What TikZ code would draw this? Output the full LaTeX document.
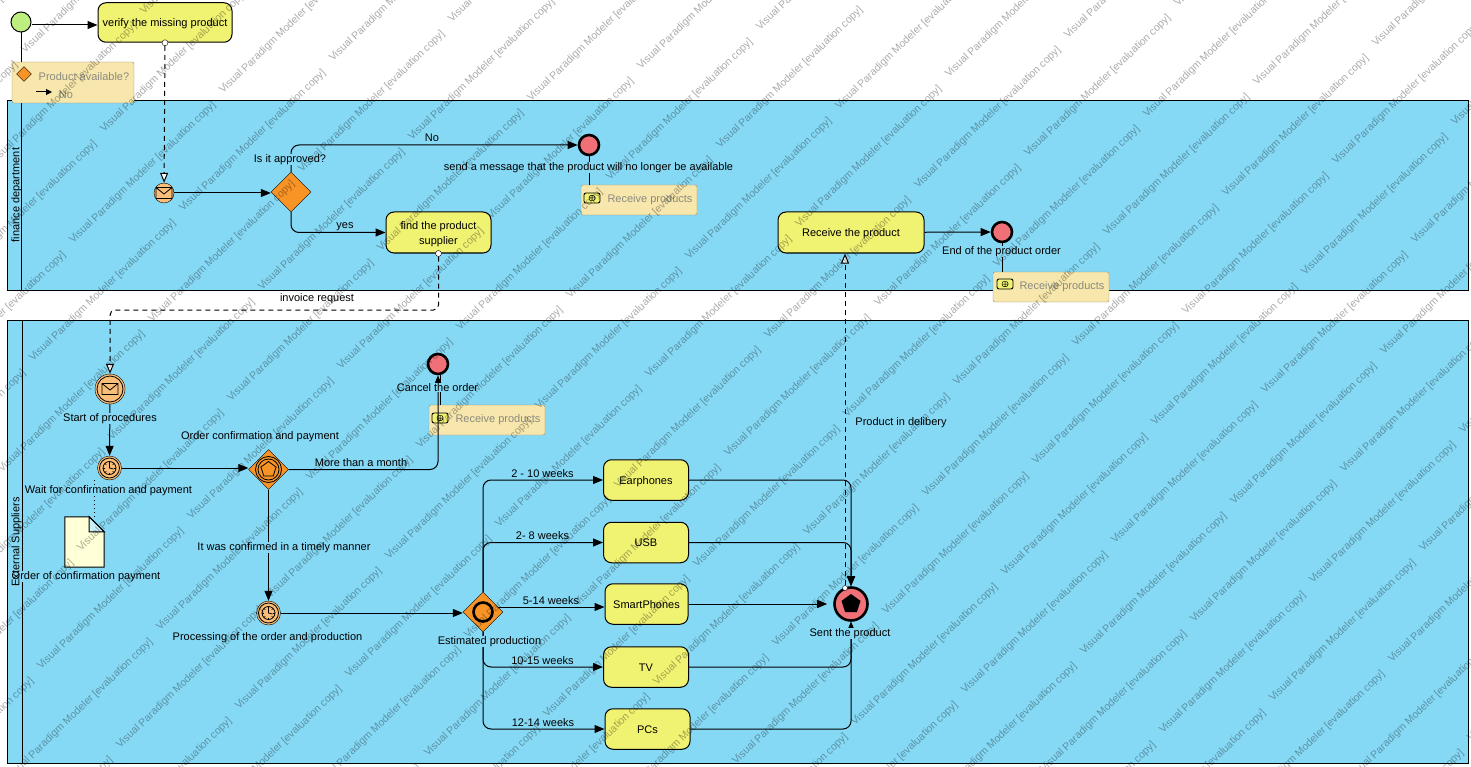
\documentclass[tikz,border=0pt]{standalone}
\usepackage{fontspec}
\setmainfont{Liberation Sans}
\usetikzlibrary{arrows.meta,shapes.geometric}
\definecolor{poolblue}{RGB}{134,217,245}
\definecolor{taskyellow}{RGB}{240,242,114}
\definecolor{gateorange}{RGB}{248,148,38}
\definecolor{eventorange}{RGB}{249,190,120}
\definecolor{endred}{RGB}{240,112,120}
\definecolor{startgreen}{RGB}{190,238,128}
\definecolor{notefill}{RGB}{247,231,172}
\definecolor{noteedge}{RGB}{150,142,112}
\definecolor{notetext}{RGB}{138,138,128}
\definecolor{docfill}{RGB}{255,255,216}
\tikzset{
  every node/.style={font=\fontsize{11}{15}\selectfont,inner sep=0pt},
  poolbox/.style={rectangle,draw=black,line width=1pt,fill=poolblue},
  pooltitle/.style={rotate=90},
  taskbox/.style={rectangle,draw=black,line width=1pt,fill=taskyellow,rounded corners=8pt,align=center,text height=10pt,text depth=2pt},
  gateway/.style={diamond,aspect=1,draw=black,fill=gateorange,minimum size=40pt},
  ringevent/.style={circle,draw=black,fill=eventorange,minimum size=#1},
  endevent/.style={circle,draw=black,line width=2.6pt,fill=endred,minimum size=#1},
  portdot/.style={circle,draw=black,fill=white,minimum size=6pt},
  notebox/.style={rectangle,draw=noteedge,fill=notefill,rounded corners=2pt},
  notelabel/.style={text=notetext,yshift=-1.5pt},
  subicon/.style={rectangle,draw=black,line width=.9pt,fill=taskyellow,rounded corners=2pt,minimum width=16pt,minimum height=10pt,
    path picture={\draw[shift={(path picture bounding box.center)},line width=.5pt] (-3,-2.5) rectangle (3,2.5) (-3,0) -- (3,0) (0,-2.5) -- (0,2.5);}},
  lbl/.style={fill=poolblue,inner xsep=1pt,inner ysep=0pt,yshift=-1.5pt},
  flow/.style={draw=black,line width=1pt,rounded corners=8pt,-{Triangle[length=10pt,width=8pt]}},
  msgflow/.style={draw=black,line width=1pt,rounded corners=5pt,dash pattern=on 5pt off 4pt,-{Triangle[open,fill=white,length=10pt,width=8pt]}},
  assoc/.style={draw=black,line width=.8pt},
  dottedlink/.style={draw=black,line width=.8pt,dash pattern=on 1pt off 3pt},
  mailmark/.style={path picture={\draw[shift={(path picture bounding box.center)},scale=#1,line width=.8pt] (0,0) circle (13) (-8,-5.5) rectangle (8,5.5) (-8,-5.5) -- (0,1) -- (8,-5.5);}},
  clockmark/.style={path picture={\draw[shift={(path picture bounding box.center)},line width=.8pt] (0,0) circle (10) (0,0) circle (6.5) (0,-5) -- (0,0) -- (4,1);
    \foreach \a in {0,45,...,315} \draw[shift={(path picture bounding box.center)},line width=.6pt] (\a:4.5pt) -- (\a:6.5pt);}},
  pentamark/.style={path picture={\draw[shift={(path picture bounding box.center)},line width=.8pt] (0,0) circle (13) (0,0) circle (10.5) (90:8pt) -- (162:8pt) -- (234:8pt) -- (306:8pt) -- (18:8pt) -- cycle;}},
  bigpenta/.style={path picture={\fill[shift={(path picture bounding box.center)},black] (90:10pt) -- (162:10pt) -- (234:10pt) -- (306:10pt) -- (18:10pt) -- cycle;}},
  thickring/.style={path picture={\draw[shift={(path picture bounding box.center)},line width=2.6pt] (0,0) circle (9.5);}},
  watermark/.style={font=\fontsize{10.5}{12}\selectfont,text=black,text opacity=.33,rotate=44,anchor=west}
}
\begin{document}
\begin{tikzpicture}[x=1pt,y=-1pt]
\useasboundingbox (0,0) rectangle (1471,767);
\clip (0,0) rectangle (1471,767);
% pools
\node[poolbox,minimum width=1460.5pt,minimum height=190.5pt] (poolFinance) at (738,195.3) {};
\node[poolbox,minimum width=1460.5pt,minimum height=443.5pt] (poolSuppliers) at (738,542) {};
\draw[assoc,line width=1pt] ([xshift=14.5pt]poolFinance.north west) -- ([xshift=14.5pt]poolFinance.south west);
\draw[assoc,line width=1pt] ([xshift=15.5pt]poolSuppliers.north west) -- ([xshift=15.5pt]poolSuppliers.south west);
% top, above the pools
\node[circle,draw=black,line width=1pt,fill=startgreen,minimum size=20pt] (startEv) at (21,22) {};
\node[taskbox,minimum width=134pt,minimum height=39.5pt] (verifyTask) at (165,22.5) {verify the missing product};
\node[portdot] (verifyPort) at (verifyTask.south) {};
\node[notebox,minimum width=122pt,minimum height=41pt] (noteAvail) at (73,82.5) {};
\node[diamond,aspect=1,draw=black,fill=gateorange,minimum size=15pt] (iconAvail) at (24,74) {};
\node[notelabel] (textAvail) at (84,75) {Product available?};
\node[notelabel] (textNo) at (66,93) {No};
\coordinate (arrowFrom) at (36,92);
\coordinate (arrowTo) at (52,92);
% finance department
\node[ringevent=20pt,mailmark=.65] (msgEvent) at (164,193) {};
\node[gateway] (gwApprove) at (291,192) {};
\node[endevent=20pt] (endNo) at (589,145) {};
\node[taskbox,minimum width=105pt,minimum height=41pt,text height=24pt,text depth=0pt] (findTask) at (438.5,232.5) {find the product\\supplier};
\node[portdot] (findPort) at (findTask.south) {};
\node[notebox,minimum width=116pt,minimum height=30pt] (noteNo) at (639,200) {};
\node[subicon] (iconNo) at (592,198) {};
\node[notelabel] (textNoteNo) at (650,198) {Receive products};
\node[taskbox,minimum width=146pt,minimum height=41pt] (receiveTask) at (851,232.5) {Receive the product};
\node[endevent=20pt] (endOrder) at (1002,232) {};
\node[notebox,minimum width=116pt,minimum height=30pt] (noteOrder) at (1051,287) {};
\node[subicon] (iconOrder) at (1005,284) {};
\node[notelabel] (textNoteOrder) at (1062,285) {Receive products};
% external suppliers
\node[ringevent=30pt,mailmark=1] (startMsg) at (110,389) {};
\node[ringevent=24pt,clockmark] (timerWait) at (109.5,468) {};
\node[gateway,pentamark] (gwOrder) at (268.5,469.5) {};
\node[endevent=20pt] (endCancel) at (438,364) {};
\node[notebox,minimum width=116pt,minimum height=30pt] (noteCancel) at (487,420) {};
\node[subicon] (iconCancel) at (440,418) {};
\node[notelabel] (textNoteCancel) at (498,418) {Receive products};
\node[rectangle,minimum width=39pt,minimum height=50pt] (docOrder) at (84.5,542) {};
\coordinate (docLink) at (94,517);
\node[ringevent=24pt,clockmark] (timerProc) at (268.5,613) {};
\node[gateway,thickring] (gwProd) at (483,612) {};
\node[taskbox,minimum width=85pt,minimum height=40.5pt] (taskEar) at (646,480) {Earphones};
\node[taskbox,minimum width=85pt,minimum height=40.5pt] (taskUsb) at (646,542.5) {USB};
\node[taskbox,minimum width=83pt,minimum height=40.5pt] (taskPhone) at (646.5,604) {SmartPhones};
\node[taskbox,minimum width=85pt,minimum height=40.5pt] (taskTv) at (646,667) {TV};
\node[taskbox,minimum width=85pt,minimum height=40.5pt] (taskPc) at (647.5,729) {PCs};
\node[endevent=33pt,bigpenta] (endSent) at (851,604) {};
\node[portdot,minimum size=5pt] (sentPort) at (845,588) {};
% connectors
\draw[flow] ([yshift=-3pt]startEv.east) -- ([yshift=-2.5pt]verifyTask.west);
\draw[assoc] (startEv) -- (startEv |- noteAvail.north);
\draw[flow,-{Triangle[length=6pt,width=6pt]}] (arrowFrom) -- (arrowTo);
\draw[msgflow] (verifyPort) -- (msgEvent);
\draw[flow] (msgEvent.east) -- (msgEvent.east -| gwApprove.west);
\draw[flow] (gwApprove.north) |- (endNo);
\draw[flow] (gwApprove.south) |- (findTask);
\draw[assoc] (endNo) -- (endNo |- noteNo.north);
\coordinate (invoiceRow) at (274,310);
\draw[msgflow] (findPort) |- (invoiceRow) -| (startMsg);
\draw[flow] (receiveTask) -- (endOrder);
\draw[assoc] (endOrder) -- (endOrder |- noteOrder.north);
\draw[flow] (startMsg) -- (timerWait);
\draw[flow] (timerWait.east) -- (timerWait.east -| gwOrder.west);
\draw[dottedlink] (docLink |- timerWait.south) -- (docLink);
\draw[flow] (gwOrder) -| (endCancel);
\draw[assoc] ([xshift=2.5pt]endCancel.south) -- ([xshift=2.5pt]endCancel.south |- noteCancel.north);
\draw[flow] (gwOrder) -- (timerProc);
\draw[flow] (timerProc.east) -- (timerProc.east -| gwProd.west);
\draw[flow] (gwProd.north) |- (taskEar);
\draw[flow] (gwProd.north) |- (taskUsb);
\draw[flow] ([xshift=-5pt,yshift=5pt]gwProd.east) -- ([yshift=-3pt]taskPhone.west);
\draw[flow] (gwProd.south) |- (taskTv);
\draw[flow] (gwProd.south) |- (taskPc);
\draw[flow] (taskEar) -| (endSent);
\draw[flow] (taskUsb) -| (endSent);
\draw[flow,shorten >=6pt] (taskPhone) -- (endSent);
\draw[flow] (taskTv) -| (endSent);
\draw[flow] (taskPc) -| (endSent);
\draw[msgflow] (sentPort) -- (sentPort |- receiveTask.south);
% document
\draw[line width=1pt,fill=docfill] (docOrder.north west) -- ([xshift=-15pt]docOrder.north east) -- ([yshift=-15pt]docOrder.north east) -- (docOrder.south east) -- (docOrder.south west) -- cycle;
\draw[line width=1pt,fill=poolblue!45] ([xshift=-15pt]docOrder.north east) -- ([yshift=-15pt]docOrder.north east) -- ([xshift=-15pt,yshift=-15pt]docOrder.north east) -- cycle;
% labels
\node[lbl] (lblApprove) at (290,158) {Is it approved?};
\node[lbl] (lblNo) at (432,136) {No};
\node[lbl] (lblYes) at (345,225.5) {yes};
\node[lbl] (lblMessage) at (588.5,166) {send a message that the product will no longer be available};
\node[lbl] (lblEndOrder) at (1001.5,250) {End of the product order};
\node[lbl,fill=white] (lblInvoice) at (317,297) {invoice request};
\node[lbl] (lblStart) at (110,417) {Start of procedures};
\node[lbl] (lblWait) at (108.5,489) {Wait for confirmation and payment};
\node[lbl] (lblDoc) at (86,575) {Order of confirmation payment};
\node[lbl] (lblOrder) at (260,435) {Order confirmation and payment};
\node[lbl] (lblCancel) at (437.5,386) {Cancel the order};
\node[lbl] (lblMonth) at (361,461) {More than a month};
\node[lbl] (lblTimely) at (284,546) {It was confirmed in a timely manner};
\node[lbl] (lblProc) at (267.5,636) {Processing of the order and production};
\node[lbl] (lblEstim) at (489.5,640) {Estimated production};
\node[lbl] (lblWeeksA) at (542.5,472) {2 - 10 weeks};
\node[lbl] (lblWeeksB) at (542.5,534) {2- 8 weeks};
\node[lbl] (lblWeeksC) at (551,599) {5-14 weeks};
\node[lbl] (lblWeeksD) at (542.5,659) {10-15 weeks};
\node[lbl] (lblWeeksE) at (543,721) {12-14 weeks};
\node[lbl] (lblSent) at (850,632) {Sent the product};
\node[lbl] (lblDelivery) at (901,421) {Product in delibery};
\node[pooltitle] (titleFinance) at (16.5,195) {finance department};
\node[pooltitle] (titleSuppliers) at (16.5,542) {External Suppliers};
% evaluation stamp
\foreach \m in {-12,...,5}
  \foreach \n in {-6,...,4} {
    \node[watermark] (wmA\m-\n) at ({1113+79*\m+150*\n},{542+79*\m-150*\n}) {Visual Paradigm Modeler [evaluation copy]};
    \node[watermark] (wmB\m-\n) at ({1232+79*\m+150*\n},{503+79*\m-150*\n}) {Visual Paradigm Modeler [evaluation copy]};
  }
\end{tikzpicture}
\end{document}
